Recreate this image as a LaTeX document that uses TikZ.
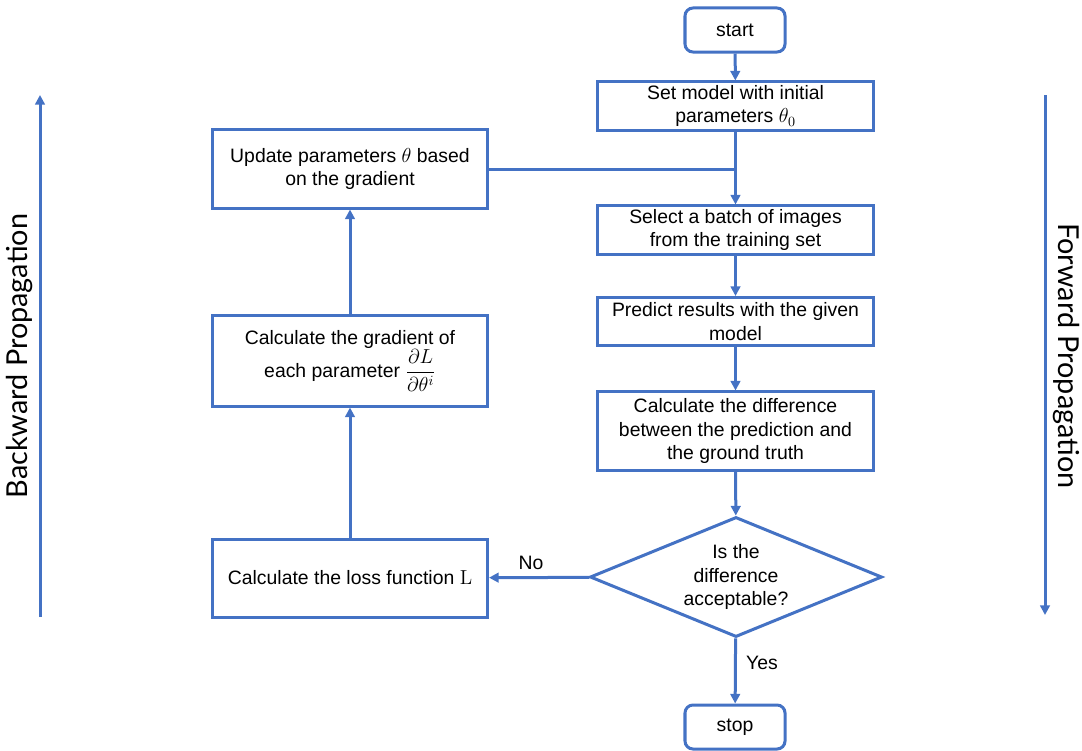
\documentclass[tikz,border=0pt]{standalone}
\usepackage{amsmath}
\usepackage[no-math]{fontspec}
\setmainfont{Liberation Sans}
\newfontfamily\sidefont{Lato}
\usetikzlibrary{arrows.meta, shapes.geometric}
\definecolor{flowblue}{HTML}{4472C4}

\begin{document}
\begin{tikzpicture}[x=0.025cm, y=-0.025cm, >={Triangle[length=2.4mm, width=2.4mm]},
    font=\fontsize{13.8pt}{17pt}\selectfont,
    box/.style={draw=flowblue, line width=0.75mm, fill=white, align=center, inner sep=1pt},
    term/.style={box, rounded corners=2mm, minimum width=2.5cm, minimum height=1.1cm},
    wide/.style={box, minimum width=6.875cm},
    link/.style={->, draw=flowblue, line width=0.75mm}]
  \useasboundingbox (0,0) rectangle (1082,750);
  % forward column
  \node[term] (start) at (735,30) {start};
  \node[wide, minimum height=1.2cm] (setm) at (735.5,106) {Set model with initial\\ parameters $\theta_0$};
  \node[wide, minimum height=1.2cm] (batch) at (735.5,230) {Select a batch of images\\ from the training set};
  \node[wide, minimum height=1.2cm] (pred) at (735.5,321.5) {Predict results with the given\\ model};
  \node[wide, minimum height=1.95cm] (diff) at (735.5,431) {Calculate the difference\\ between the prediction and\\ the ground truth};
  \node[diamond, shape aspect=2.4, draw=flowblue, line width=0.75mm, fill=white, align=center, inner sep=0pt,
        minimum width=7.3cm, minimum height=3cm] (chk) at (736,577) {Is the\\ difference\\ acceptable?};
  \node[term] (stop) at (735,727) {stop};
  % backward column
  \node[wide, minimum height=1.95cm] (upd) at (350,169) {Update parameters $\theta$ based\\ on the gradient};
  \node[wide, minimum height=2.25cm] (grad) at (350,361) {Calculate the gradient of\\ each parameter $\dfrac{\partial L}{\partial \theta^{i}}$};
  \node[wide, minimum height=1.95cm] (loss) at (350,578) {Calculate the loss function $\mathrm{L}$};
  % connectors
  \foreach \a/\b in {start/setm, setm/batch, batch/pred, pred/diff, diff/chk, chk/stop, loss/grad, grad/upd}
    \draw[link] (\a) -- (\b);
  \draw[link, -] (upd) -- (upd -| setm);
  \draw[link] (chk) -- (loss);
  \node at (531,563) {No};
  \node at (762,663) {Yes};
  % side arrows
  \coordinate (bwbot) at (40,617);
  \coordinate (bwtop) at (40,95);
  \coordinate (fwtop) at (1045,95);
  \coordinate (fwbot) at (1045,615);
  \draw[link] (bwbot) -- (bwtop);
  \draw[link] (fwtop) -- (fwbot);
  \node[rotate=90, font=\sidefont\fontsize{20.5pt}{24pt}\selectfont] (bwtxt) at (20,356) {Backward Propagation};
  \node[rotate=-90, font=\sidefont\fontsize{20.5pt}{24pt}\selectfont] (fwtxt) at (1066,356) {Forward Propagation};
\end{tikzpicture}
\end{document}
